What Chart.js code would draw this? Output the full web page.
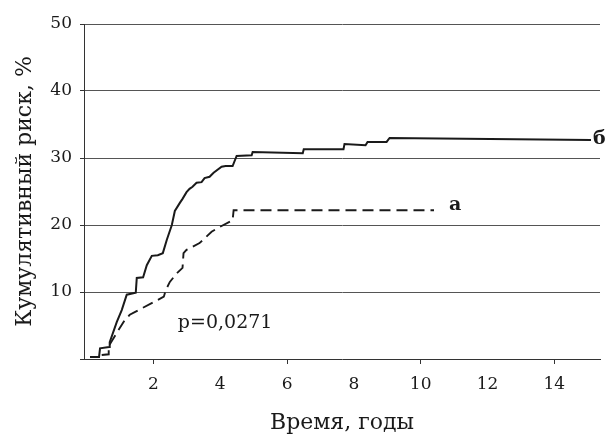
<!DOCTYPE html>
<html>
<head>
<meta charset="utf-8">
<script src="https://cdn.jsdelivr.net/npm/chart.js@4.4.1/dist/chart.umd.min.js"></script>
<style>
  html, body { margin: 0; padding: 0; background: #fff; }
  #wrap { width: 612px; height: 440px; }
</style>
</head>
<body>
<div id="wrap"><canvas id="chart" width="612" height="440"></canvas></div>
<script>
// curve "б" (solid)
const timeB = [0.10, 0.37, 0.40, 0.67, 0.69, 0.90, 1.05, 1.20, 1.47, 1.50, 1.69, 1.80, 1.95, 2.13, 2.28, 2.40, 2.55, 2.64, 2.79, 2.87, 2.99, 3.08, 3.17, 3.29, 3.44, 3.53, 3.68, 3.80, 4.04, 4.16, 4.37, 4.49, 4.94, 4.97, 6.47, 6.50, 7.69, 7.72, 8.35, 8.41, 8.98, 9.07, 15.10];
const riskB = [0.3, 0.3, 1.6, 1.8, 2.5, 5.5, 7.3, 9.6, 9.9, 12.1, 12.2, 14.0, 15.4, 15.5, 15.8, 17.8, 20.0, 22.1, 23.3, 23.9, 24.9, 25.4, 25.7, 26.3, 26.4, 27.0, 27.2, 27.8, 28.7, 28.8, 28.8, 30.3, 30.4, 30.9, 30.7, 31.3, 31.3, 32.1, 31.9, 32.4, 32.4, 33.0, 32.7];

// curve "а" (dashed)
const timeA = [0.45, 0.66, 0.66, 0.90, 1.14, 1.29, 2.31, 2.37, 2.49, 2.70, 2.87, 2.90, 2.99, 3.38, 3.74, 3.98, 4.37, 4.40, 10.40];
const riskA = [0.6, 0.7, 1.9, 3.9, 5.8, 6.6, 9.3, 10.3, 11.5, 12.8, 13.6, 15.8, 16.3, 17.3, 19.0, 19.7, 20.7, 22.2, 22.2];

const xTickLabels = [2, 4, 6, 8, 10, 12, 14];
const xTickMarks = [2, 6, 10, 14];
const yTickLabels = [10, 20, 30, 40, 50];

const notes = [
  { text: 'p=0,0271', x: 2.73, y: 5.4, bold: false, size: 19 },
  { text: 'а', x: 10.85, y: 23.0, bold: true, size: 19 }
];

const toPoints = (xs, ys) => xs.map((x, i) => ({ x: x, y: ys[i] }));

const serif = '"DejaVu Serif", "Liberation Serif", serif';
const ink = '#1a1a1a';

const notesPlugin = {
  id: 'notes',
  afterDatasetsDraw(chart) {
    const c = chart.ctx;
    const xs = chart.scales.x, ys = chart.scales.y;
    c.save();
    c.fillStyle = ink;
    c.textBaseline = 'middle';
    c.textAlign = 'left';
    notes.forEach(n => {
      c.font = (n.bold ? 'bold ' : '') + n.size + 'px ' + serif;
      c.fillText(n.text, xs.getPixelForValue(n.x), ys.getPixelForValue(n.y));
    });
    // label "б" right after the end of its curve
    const last = timeB.length - 1;
    c.font = 'bold 19px ' + serif;
    c.fillText('б', xs.getPixelForValue(timeB[last]) + 2, ys.getPixelForValue(riskB[last]) - 1);
    c.restore();
  }
};

const ctx = document.getElementById('chart').getContext('2d');
new Chart(ctx, {
  type: 'line',
  data: {
    datasets: [{
      label: 'б',
      data: toPoints(timeB, riskB),
      borderColor: ink,
      borderWidth: 2,
      pointRadius: 0,
      tension: 0,
      fill: false
    }, {
      label: 'а',
      data: toPoints(timeA, riskA),
      borderColor: ink,
      borderWidth: 1.9,
      borderDash: [11, 6],
      pointRadius: 0,
      tension: 0,
      fill: false
    }]
  },
  options: {
    responsive: false,
    animation: false,
    layout: { padding: { top: 24, right: 12, left: 0, bottom: 0 } },
    plugins: { legend: { display: false }, tooltip: { enabled: false } },
    scales: {
      x: {
        type: 'linear',
        min: -0.08,
        max: 15.37,
        afterBuildTicks: s => { s.ticks = xTickLabels.map(v => ({ value: v })); },
        afterFit: s => { s.height = 81; },
        border: { display: true, color: '#333', width: 1 },
        grid: {
          drawOnChartArea: false,
          drawTicks: true,
          tickLength: 5,
          tickColor: c => (c.tick && xTickMarks.includes(c.tick.value)) ? '#333' : 'rgba(0,0,0,0)'
        },
        ticks: {
          color: ink,
          padding: 10,
          maxRotation: 0,
          autoSkip: false,
          font: { family: serif, size: 17 }
        },
        title: {
          display: true,
          text: 'Время, годы',
          color: ink,
          font: { family: serif, size: 22 },
          padding: { top: 0, bottom: 4 }
        }
      },
      y: {
        min: 0,
        max: 50,
        afterBuildTicks: s => { s.ticks = [0].concat(yTickLabels).map(v => ({ value: v })); },
        afterFit: s => { s.width = 84; },
        border: { display: true, color: '#333', width: 1 },
        grid: {
          color: c => (c.tick && c.tick.value === 0) ? 'rgba(0,0,0,0)' : '#555',
          lineWidth: 1,
          drawTicks: true,
          tickLength: 4,
          tickColor: '#333'
        },
        ticks: {
          color: ink,
          padding: 8,
          callback: v => (v === 0 ? '' : v),
          font: { family: serif, size: 17 }
        },
        title: {
          display: true,
          text: 'Кумулятивный риск, %',
          color: ink,
          font: { family: serif, size: 22 },
          padding: { top: 12, bottom: 0 }
        }
      }
    }
  },
  plugins: [notesPlugin]
});
</script>
</body>
</html>
